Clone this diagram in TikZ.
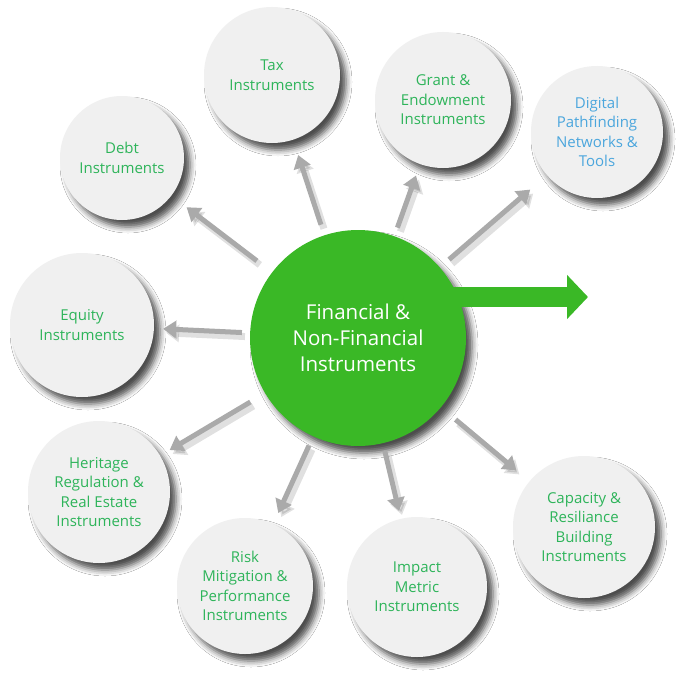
\documentclass[tikz,border=0pt]{standalone}
\usepackage{fontspec}
\setmainfont{Open Sans}
\usetikzlibrary{arrows.meta,shadows.blur}
\definecolor{cgreen}{RGB}{58,184,38}
\definecolor{tgreen}{RGB}{46,180,90}
\definecolor{tblue}{RGB}{75,166,221}
\definecolor{cfill}{RGB}{240,240,240}
\definecolor{agray}{RGB}{170,170,170}
\begin{document}
\begin{tikzpicture}[x=1pt,y=-1pt,
  sat/.style={circle, fill=cfill, inner sep=0pt, align=center, text=tgreen,
    font=\fontsize{15}{19.5}\selectfont,
    blur shadow={shadow xshift=6pt, shadow yshift=-7pt, shadow blur radius=6pt, shadow opacity=70}},
  hub/.style={circle, fill=cgreen, inner sep=0pt, minimum size=216pt,
    blur shadow={shadow xshift=6pt, shadow yshift=-7pt, shadow blur radius=6pt, shadow opacity=70}},
  conn/.style={draw=agray, line width=5pt, -{Triangle[width=17pt,length=13pt]},
    preaction={draw=black, opacity=0.12, line width=7pt, transform canvas={shift={(3,4)}}}},
  bigarrow/.style={draw=cgreen, line width=20pt, -{Triangle[width=43pt,length=21pt]}}
]
\fill[white] (0,0) rectangle (685,685);
\useasboundingbox (0,0) rectangle (685,685);

\node[sat, minimum size=136pt] (tax) at (272,75) {Tax\\Instruments};
\node[sat, minimum size=136pt] (grant) at (443,100) {Grant \&\\Endowment\\Instruments};
\node[sat, minimum size=132pt, text=tblue] (digital) at (597,132) {Digital\\Pathfinding\\Networks \&\\Tools};
\node[sat, minimum size=124pt] (debt) at (122,158) {Debt\\Instruments};
\node[sat, minimum size=144pt] (equity) at (82,325) {Equity\\Instruments};
\node[sat, minimum size=142pt] (heritage) at (99,492) {Heritage\\Regulation \&\\Real Estate\\Instruments};
\node[sat, minimum size=136pt] (risk) at (245,586) {Risk\\Mitigation \&\\Performance\\Instruments};
\node[sat, minimum size=140pt] (impact) at (417,587) {Impact\\Metric\\Instruments};
\node[sat, minimum size=142pt] (capacity) at (584,527) {Capacity \&\\Resiliance\\Building\\Instruments};

\node[hub] (c) at (358,338) {};
\coordinate (outstart) at (438,297);
\coordinate (out) at (588,297);
\draw[bigarrow] (outstart) -- (out);
\node[align=center, text=white, font=\fontsize{20.5}{26}\selectfont] (ctext) at (c.center) {Financial \&\\Non-Financial\\Instruments};

\draw[conn, shorten <=11pt, shorten >=16pt] (c) -- (tax);
\draw[conn, shorten <=9pt, shorten >=12pt] (c) -- (grant);
\draw[conn, shorten <=12pt, shorten >=22pt] (c) -- (digital);
\draw[conn, shorten <=19pt, shorten >=19pt] (c) -- (debt);
\draw[conn, shorten <=8pt, shorten >=9pt] (c) -- (equity);
\draw[conn, shorten <=17pt, shorten >=11pt] (c) -- (heritage);
\draw[conn, shorten <=10pt, shorten >=12pt] (c) -- (risk);
\draw[conn, shorten <=8pt, shorten >=8pt] (c) -- (impact);
\draw[conn, shorten <=19pt, shorten >=17pt] (c) -- (capacity);
\end{tikzpicture}
\end{document}
